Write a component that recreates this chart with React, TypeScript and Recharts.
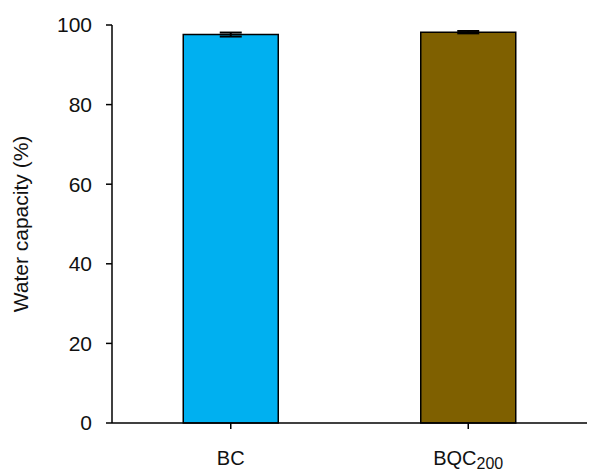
import React from 'react';
import { BarChart, Bar, XAxis, YAxis, ErrorBar, Cell } from 'recharts';

// Sample names, mean water capacity (%) and standard deviations
const categories = ['BC', 'BQC200'];
const capacity = [97.6, 98.2];
const deviation = [0.5, 0.3];
const barColors = ['#00B0F0', '#7F6000'];
const yTicks = [0, 20, 40, 60, 80, 100];

const data = categories.map((name, i) => ({ name, value: capacity[i], err: deviation[i] }));

const FONT = 'Liberation Sans, Arial, sans-serif';

// Renders "BQC200" with the digits as a subscript
const CategoryTick = (props: any) => {
  const { x, y, payload } = props;
  const label: string = payload.value;
  const m = label.match(/^([A-Za-z]+)(\d+)$/);
  return (
    <text x={x} y={y + 34} textAnchor="middle" fontFamily={FONT} fontSize={20} fill="#111">
      {m ? (
        <>
          <tspan>{m[1]}</tspan>
          <tspan fontSize={16} dy={4}>{m[2]}</tspan>
        </>
      ) : (
        label
      )}
    </text>
  );
};

export default function App() {
  return (
    <div style={{ position: 'absolute', left: 0, top: 0, background: '#fff' }}>
      <BarChart
        width={592}
        height={472}
        data={data}
        margin={{ top: 25, right: 5, bottom: 0, left: 0 }}
        barCategoryGap="30%"
      >
        <XAxis
          dataKey="name"
          tick={<CategoryTick />}
          tickSize={6}
          tickLine={{ stroke: '#000', strokeWidth: 1.5 }}
          axisLine={{ stroke: '#000', strokeWidth: 1.5 }}
          height={49}
          interval={0}
        />
        <YAxis
          width={112}
          domain={[0, 100]}
          ticks={yTicks}
          interval={0}
          tickSize={6}
          tickMargin={14}
          tick={{ fontFamily: FONT, fontSize: 21, fill: '#111' }}
          tickLine={{ stroke: '#000', strokeWidth: 1.5 }}
          axisLine={{ stroke: '#000', strokeWidth: 1.5 }}
          label={{
            value: 'Water capacity (%)',
            angle: -90,
            position: 'insideLeft',
            offset: 21,
            style: { textAnchor: 'middle', fontFamily: FONT, fontSize: 21, fill: '#111' },
          }}
        />
        <Bar dataKey="value" stroke="#000" strokeWidth={1.5} isAnimationActive={false}>
          {data.map((d, i) => (
            <Cell key={d.name} fill={barColors[i]} />
          ))}
          <ErrorBar dataKey="err" width={11} stroke="#000" strokeWidth={2} direction="y" />
        </Bar>
      </BarChart>
    </div>
  );
}
